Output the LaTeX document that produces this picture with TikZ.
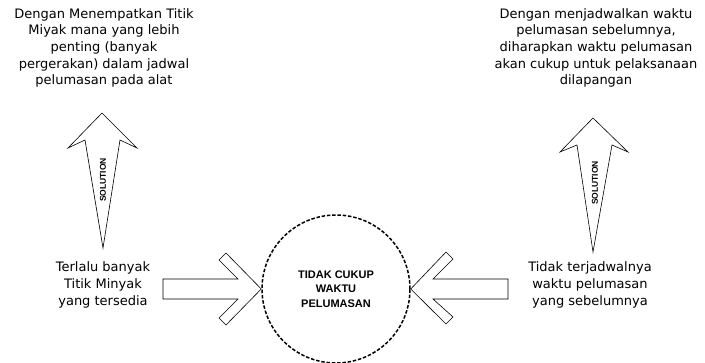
\documentclass[tikz,border=0pt]{standalone}
\usepackage{fontspec}
\setmainfont{DejaVu Sans}
\newfontfamily\capsfont{Liberation Sans}
\begin{document}
\begin{tikzpicture}[x=1pt,y=-1pt,
  txt/.style={align=center,font=\fontsize{13}{16.7}\selectfont,inner sep=0pt},
  shapeline/.style={draw=black,line width=0.6pt,line join=miter,fill=white},
  soltext/.style={font=\capsfont\bfseries\fontsize{8.5}{9}\selectfont,inner sep=0pt,rotate=90},
  probcircle/.style={circle,draw=black,line width=1.5pt,dash pattern=on 3.5pt off 1.8pt,minimum size=148pt,inner sep=0pt,
     align=center,font=\capsfont\bfseries\fontsize{11}{14.5}\selectfont}]
\useasboundingbox (0,0) rectangle (705,363);
% central problem
\node[probcircle] (prob) at (336,289) {TIDAK CUKUP\\WAKTU\\PELUMASAN};
% top texts
\node[txt] (sol1) at (104,48) {Dengan Menempatkan Titik\\Miyak mana yang lebih\\penting (banyak\\pergerakan) dalam jadwal\\pelumasan pada alat};
\node[txt] (sol2) at (596,48) {Dengan menjadwalkan waktu\\pelumasan sebelumnya,\\diharapkan waktu pelumasan\\akan cukup untuk pelaksanaan\\dilapangan};
% bottom texts
\node[txt] (cause1) at (103,285) {Terlalu banyak\\Titik Minyak\\yang tersedia};
\node[txt] (cause2) at (590,285) {Tidak terjadwalnya\\waktu pelumasan\\yang sebelumnya};
% up arrows (solution)
\coordinate (u1tip) at (102,113);
\coordinate (u1bot) at (103,248);
\draw[shapeline] (u1tip) -- (137,148) -- (120,140) -- (u1bot) -- (85,140) -- (68,148) -- cycle;
\node[soltext] (s1) at (103,180) {SOLUTION};
\coordinate (u2tip) at (593,118);
\coordinate (u2bot) at (593,252);
\draw[shapeline] (u2tip) -- (628,152) -- (612,145) -- (u2bot) -- (577,145) -- (560,152) -- cycle;
\node[soltext] (s2) at (595,183) {SOLUTION};
% horizontal arrows pointing at the circle
\draw[shapeline] (163,279) -- (238,279) -- (219,260) -- (226,253) -- (prob.west) -- (226,325) -- (219,318) -- (238,299) -- (163,299) -- cycle;
\draw[shapeline] (508,279) -- (433,279) -- (453,259) -- (446,252) -- (prob.east) -- (446,324) -- (453,317) -- (433,299) -- (508,299) -- cycle;
\end{tikzpicture}
\end{document}
